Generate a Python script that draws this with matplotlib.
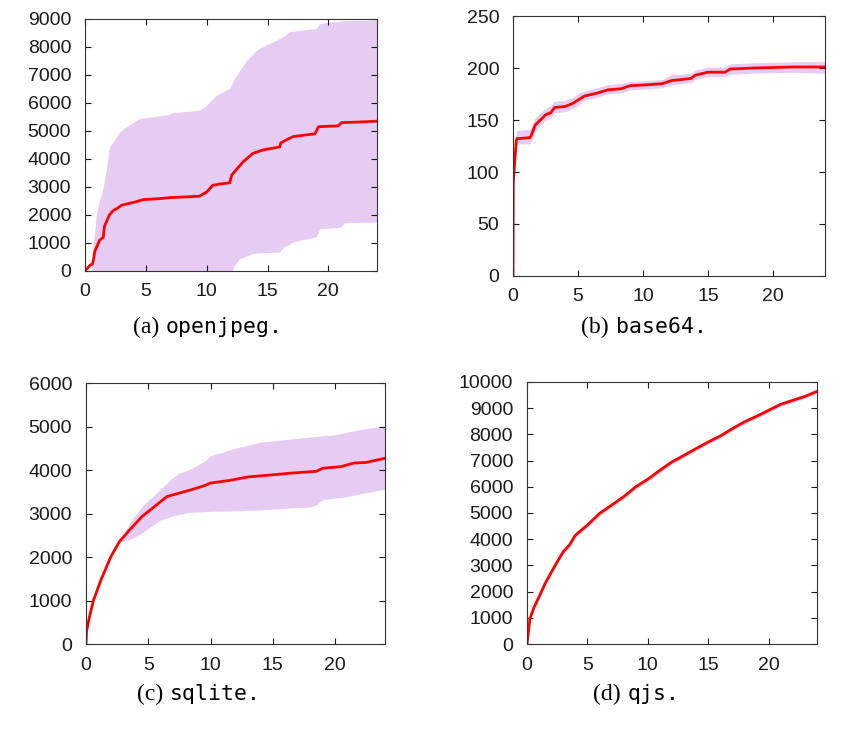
import numpy as np
import matplotlib.pyplot as plt

# =========================================================
# Data (x in hours, y = coverage)
# =========================================================
# (a) openjpeg
OJ_X = [0, 0.2, 0.4, 0.6, 0.7, 0.8, 1.0, 1.2, 1.5, 1.6, 1.8, 2.0, 2.3, 2.7, 3.0, 3.5,
        4.0, 4.8, 6.0, 7.0, 8.0, 9.4, 10.0, 10.5, 11.0, 11.9, 12.05, 12.5, 13.0, 13.8,
        14.6, 16.0, 16.1, 17.1, 18.0, 18.9, 19.2, 20.0, 20.8, 21.1, 22.0, 23.0, 24.0]
OJ_MEAN = [0, 100, 200, 250, 400, 700, 900, 1100, 1200, 1600, 1800, 2000, 2150, 2250,
           2350, 2400, 2450, 2550, 2580, 2620, 2640, 2670, 2820, 3060, 3100, 3150, 3420,
           3650, 3900, 4200, 4320, 4430, 4580, 4800, 4850, 4900, 5150, 5170, 5180, 5300,
           5310, 5330, 5350]
OJ_BAND_X = [0.52, 0.6, 0.8, 0.93, 1.2, 1.5, 1.75, 2.0, 2.4, 2.85, 3.4, 4.5, 6.7, 7.2,
             9.4, 10.0, 10.8, 11.9, 12.0, 12.2, 12.7, 13.3, 13.8, 14.1, 14.9, 16.0, 16.3,
             16.8, 17.1, 19.0, 19.3, 20.4, 21.0, 21.3, 24.0]
OJ_UPPER = [0, 600, 1450, 2050, 2530, 3000, 3600, 4430, 4670, 4970, 5150, 5450, 5570,
            5650, 5740, 5920, 6280, 6520, 6600, 6820, 7150, 7530, 7750, 7890, 8070, 8300,
            8380, 8540, 8560, 8660, 8840, 8900, 8920, 8940, 8960]
OJ_LOWER = [0, 0, 0, 0, 0, 0, 0, 0, 0, 0, 0, 0, 0, 0, 0, 0, 0, 0, -200, 140, 440, 540,
            620, 640, 660, 680, 860, 950, 1040, 1220, 1510, 1540, 1570, 1720, 1750]

# (b) base64
B64_X = [0, 0.02, 0.1, 0.25, 0.3, 1.3, 1.4, 1.7, 2.1, 2.5, 2.9, 3.2, 4.0, 4.6, 5.1, 5.5,
         6.5, 7.3, 8.3, 9.0, 10.5, 11.5, 12.2, 13.0, 13.7, 14.0, 15.0, 16.3, 16.7, 18.5,
         21.5, 24.0]
B64_MEAN = [0, 90, 105, 130, 132, 133, 135, 145, 150, 155, 157, 162, 163, 166, 170, 173,
            176, 179, 180, 183, 184, 185, 188, 189, 190, 193, 196, 196, 199, 200, 201, 201]
B64_UPPER = [0, 98, 118, 138, 140, 141, 143, 152, 157, 161, 164, 168, 169, 172, 176, 178,
             181, 184, 185, 187, 188, 189, 194, 194, 195, 198, 201, 201, 204, 205, 206, 206]
B64_LOWER = [0, 85, 98, 126, 127, 127, 129, 139, 145, 150, 152, 157, 158, 161, 165, 169,
             172, 175, 176, 179, 180, 181, 184, 185, 186, 189, 192, 192, 194, 195, 196, 195]

# (c) sqlite
SQ_X = [0, 0.05, 0.3, 0.6, 1.2, 2.0, 2.7, 3.5, 4.5, 5.5, 6.5, 7.5, 8.5, 9.5, 10.0, 11.5,
        13.0, 15.0, 16.5, 18.5, 19.0, 20.5, 21.5, 22.5, 24.0]
SQ_MEAN = [0, 300, 650, 1000, 1470, 2010, 2360, 2620, 2930, 3160, 3390, 3470, 3550, 3640,
           3700, 3760, 3840, 3890, 3930, 3970, 4040, 4080, 4160, 4175, 4270]
SQ_BAND_X = [2.7, 3.0, 3.5, 4.0, 4.5, 5.0, 5.5, 6.0, 6.5, 7.0, 7.5, 8.0, 8.5, 9.5, 10.0,
             12.0, 13.0, 14.0, 16.0, 18.0, 18.5, 19.0, 20.0, 21.0, 22.0, 24.0]
SQ_UPPER = [2360, 2500, 2780, 2980, 3160, 3300, 3430, 3570, 3700, 3830, 3930, 3980, 4040,
            4200, 4330, 4500, 4570, 4640, 4700, 4760, 4770, 4790, 4810, 4870, 4930, 5020]
SQ_LOWER = [2360, 2360, 2400, 2470, 2560, 2660, 2760, 2850, 2900, 2950, 2980, 3010, 3030,
            3040, 3050, 3060, 3070, 3080, 3120, 3150, 3200, 3320, 3350, 3390, 3450, 3560]

# (d) qjs
QJ_X = [0, 0.25, 0.6, 1, 1.5, 2, 2.5, 3, 3.5, 4, 5, 6, 7, 8, 9, 10, 11, 12, 13, 14, 15,
        16, 17, 18, 19, 20, 21, 22, 23, 24]
QJ_MEAN = [0, 980, 1420, 1800, 2310, 2730, 3140, 3520, 3770, 4150, 4540, 4980, 5300, 5620,
           6000, 6290, 6630, 6950, 7200, 7460, 7710, 7940, 8220, 8480, 8690, 8920, 9150,
           9300, 9450, 9640]
QJ_UPPER = [0, 1040, 1490, 1870, 2380, 2800, 3210, 3590, 3850, 4230, 4620, 5060, 5380,
            5700, 6090, 6380, 6710, 7030, 7280, 7540, 7790, 8020, 8300, 8560, 8770, 9000,
            9230, 9380, 9530, 9720]
QJ_LOWER = [0, 920, 1350, 1730, 2240, 2660, 3070, 3450, 3690, 4070, 4460, 4900, 5220, 5540,
            5910, 6200, 6550, 6870, 7120, 7380, 7630, 7860, 8140, 8400, 8610, 8840, 9070,
            9220, 9370, 9560]

BAND_COLOR = "#e6ccf2"
LINE_COLOR = "#ff0000"

PANELS = [
    # rect, x, mean, band_x, upper, lower, ymax, ystep, tag, name, caption_x, caption_y
    ([0.1004, 0.6313, 0.3447, 0.3429], OJ_X, OJ_MEAN, OJ_BAND_X, OJ_UPPER, OJ_LOWER,
     9000, 1000, "(a)", "openjpeg.", 0.188, 0.547),
    ([0.6057, 0.6245, 0.3684, 0.3537], B64_X, B64_MEAN, B64_X, B64_UPPER, B64_LOWER,
     250, 50, "(b)", "base64.", 0.719, 0.547),
    ([0.1015, 0.1238, 0.3530, 0.3551], SQ_X, SQ_MEAN, SQ_BAND_X, SQ_UPPER, SQ_LOWER,
     6000, 1000, "(c)", "sqlite.", 0.193, 0.047),
    ([0.6222, 0.1238, 0.3424, 0.3565], QJ_X, QJ_MEAN, QJ_X, QJ_UPPER, QJ_LOWER,
     10000, 1000, "(d)", "qjs.", 0.733, 0.047),
]

fig = plt.figure(figsize=(8.47, 7.35), dpi=100)

for rect, x, mean, bx, up, lo, ymax, ystep, tag, name, cx, cy in PANELS:
    ax = fig.add_axes(rect)
    ax.fill_between(bx, lo, up, color=BAND_COLOR, linewidth=0)
    ax.plot(x, mean, color=LINE_COLOR, linewidth=2.0, solid_joinstyle="miter")

    ax.set_xlim(0, 24)
    ax.set_ylim(0, ymax)
    ax.set_xticks([0, 5, 10, 15, 20])
    ax.set_yticks(np.arange(0, ymax + 1, ystep))
    ax.tick_params(direction="in", top=True, right=True, length=4, width=0.8,
                   labelsize=14, colors="#1a1a1a")
    ax.tick_params(axis="x", pad=9)
    ax.tick_params(axis="y", pad=10)
    for lbl in ax.get_xticklabels() + ax.get_yticklabels():
        lbl.set_family("Liberation Sans")
    for sp in ax.spines.values():
        sp.set_color("#333333")
        sp.set_linewidth(0.8)

    fig.text(cx, cy, tag, family="Liberation Serif", fontsize=17, ha="right", va="baseline")
    fig.text(cx + 0.008, cy, name, family="DejaVu Sans Mono", fontsize=15.5,
             ha="left", va="baseline")

fig.savefig("out.png", dpi=100)
